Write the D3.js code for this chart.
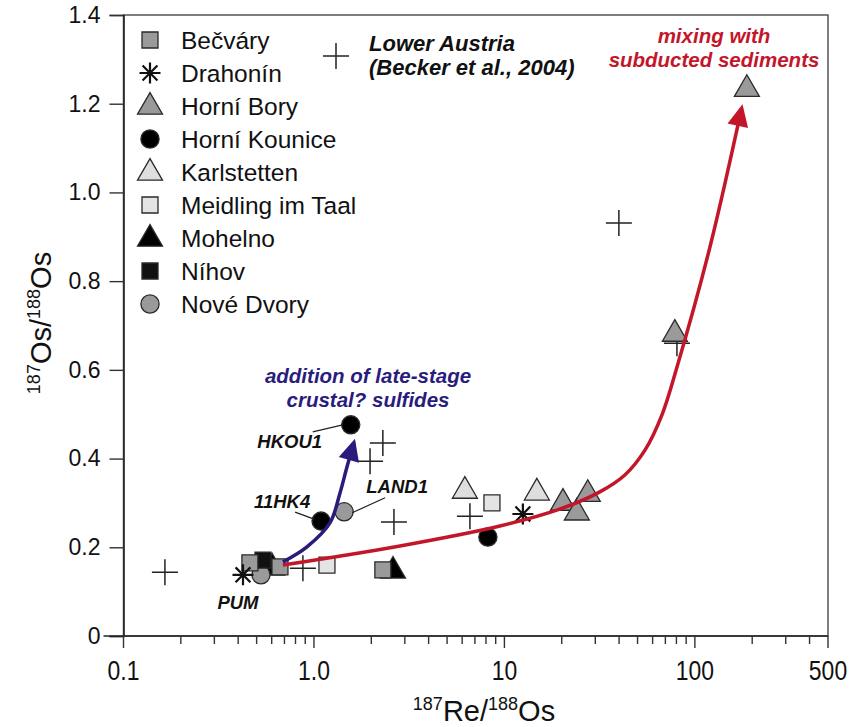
<!DOCTYPE html>
<html>
<head>
<meta charset="utf-8">
<script src="https://cdn.jsdelivr.net/npm/d3@7"></script>
<style>
body { margin: 0; background: #fff; }
svg { display: block; font-family: "Liberation Sans", Arial, Helvetica, sans-serif; }
</style>
</head>
<body>
<div id="chart"></div>
<script>
// [187Re/188Os, 187Os/188Os]
var becvary      = [[0.461, 0.165], [0.663, 0.156], [2.30, 0.149]];
var drahonin     = [[0.424, 0.138], [12.5, 0.275]];
var horniBory    = [[20.3, 0.302], [24.0, 0.280], [27.4, 0.322], [78.5, 0.683], [187.5, 1.235]];
var horniKounice = [[1.56, 0.476], [1.09, 0.259], [8.19, 0.223]];
var karlstetten  = [[6.2, 0.329], [14.8, 0.325]];
var meidling     = [[8.6, 0.300], [1.17, 0.160]];
var mohelno      = [[0.603, 0.156], [2.60, 0.149]];
var nihov        = [[0.54, 0.171]];
var noveDvory    = [[0.527, 0.138], [1.44, 0.280]];
var lowerAustria = [[0.165, 0.144], [0.875, 0.153], [2.30, 0.435], [1.97, 0.394],
                    [2.63, 0.257], [6.59, 0.270], [39.9, 0.931], [80.5, 0.660]];

// trend arrows (drawn by hand in the original)
var sedimentTrend = [[0.687, 0.160], [2.83, 0.203], [9.47, 0.248], [19.5, 0.286], [31.7, 0.325],
                     [42.9, 0.363], [54.7, 0.419], [67.1, 0.498], [80.5, 0.606], [120, 0.877], [176, 1.19]];
var sulfideTrend  = [[0.687, 0.167], [0.919, 0.201], [1.213, 0.255], [1.369, 0.322], [1.49, 0.381], [1.62, 0.436]];

// labelled samples: text offset (tx,ty) and leader line offsets from the point
var sampleLabels = [
    {name: "HKOU1", at: [1.56, 0.476], tx: -61, ty: 23, lx: -8, ly: 0, x2: -38, y2: 7},
    {name: "11HK4", at: [1.09, 0.259], tx: -39, ty: -13, lx: -7, ly: -2, x2: -26, y2: -9},
    {name: "LAND1", at: [1.44, 0.280], tx: 53, ty: -19, lx: 8, ly: 1, x2: 41, y2: -14},
    {name: "PUM",   at: [0.424, 0.138], tx: -5, ty: 34, lx: 0, ly: 0, x2: 0, y2: 0}
];

var yTicks = [0, 0.2, 0.4, 0.6, 0.8, 1.0, 1.2, 1.4];
var xMajor = [0.1, 1, 10, 100, 500];
var xMajorLabels = ["0.1", "1.0", "10", "100", "500"];
var xMinor = [0.2, 0.3, 0.4, 0.5, 0.6, 0.7, 0.8, 0.9, 2, 3, 4, 5, 6, 7, 8, 9,
              20, 30, 40, 50, 60, 70, 80, 90, 200, 300, 400];

var groups = [
    {name: "Bečváry", shape: "square", fill: "#9a9a9a", data: becvary},
    {name: "Drahonín", shape: "star", fill: "#111", data: drahonin},
    {name: "Horní Bory", shape: "triangle", fill: "#9a9a9a", data: horniBory},
    {name: "Horní Kounice", shape: "circle", fill: "#000", data: horniKounice},
    {name: "Karlstetten", shape: "triangle", fill: "#dedede", data: karlstetten},
    {name: "Meidling im Taal", shape: "square", fill: "#e4e4e4", data: meidling},
    {name: "Mohelno", shape: "triangle", fill: "#000", data: mohelno},
    {name: "Níhov", shape: "square", fill: "#111", data: nihov},
    {name: "Nové Dvory", shape: "circle", fill: "#9a9a9a", data: noveDvory}
];

var W = 858, H = 727;
var svg = d3.select("#chart").append("svg").attr("width", W).attr("height", H);

var x = d3.scaleLog().domain([0.1, 500]).range([123.5, 828]);
var y = d3.scaleLinear().domain([0, 1.4]).range([636, 15]);

var red = "#c3162b", navy = "#2a1c7c";

var defs = svg.append("defs");
function arrowHead(id, color){
    defs.append("marker")
        .attr("id", id)
        .attr("markerUnits", "userSpaceOnUse")
        .attr("viewBox", "-24 -12 28 24")
        .attr("markerWidth", 28).attr("markerHeight", 24)
        .attr("refX", -4).attr("refY", 0)
        .attr("orient", "auto")
        .append("path")
        .attr("d", "M0,0 L-22,-10.5 L-22,10.5 Z")
        .attr("fill", color);
}
arrowHead("arrRed", red);
arrowHead("arrNavy", navy);

// frame
svg.append("rect")
    .attr("x", x.range()[0]).attr("y", y.range()[1])
    .attr("width", x.range()[1] - x.range()[0])
    .attr("height", y.range()[0] - y.range()[1])
    .attr("fill", "none").attr("stroke", "#555").attr("stroke-width", 1.5);

// y axis
var yAxis = svg.append("g")
    .attr("transform", "translate(" + x.range()[0] + ",0)")
    .call(d3.axisLeft(y).tickValues(yTicks).tickSize(14).tickPadding(9)
          .tickFormat(function(d){ return d === 0 ? "0" : d.toFixed(1); }));
yAxis.select(".domain").attr("stroke", "#222").attr("stroke-width", 1.6);
yAxis.selectAll(".tick line").attr("stroke", "#333").attr("stroke-width", 1.4);
yAxis.selectAll(".tick text").attr("font-size", 23).attr("fill", "#111")
    .attr("font-family", "\"Liberation Sans\", Arial, sans-serif");

// x axis
var xAxis = svg.append("g")
    .attr("transform", "translate(0," + y.range()[0] + ")");
xAxis.append("line")
    .attr("x1", x.range()[0] - 20).attr("x2", x.range()[1])
    .attr("stroke", "#222").attr("stroke-width", 1.6);
xAxis.selectAll(".minor").data(xMinor).enter().append("line")
    .attr("x1", function(d){ return x(d); }).attr("x2", function(d){ return x(d); })
    .attr("y1", 0).attr("y2", 8)
    .attr("stroke", "#333").attr("stroke-width", 1.4);
xAxis.selectAll(".major").data(xMajor).enter().append("line")
    .attr("x1", function(d){ return x(d); }).attr("x2", function(d){ return x(d); })
    .attr("y1", 0).attr("y2", 12)
    .attr("stroke", "#333").attr("stroke-width", 1.4);
xAxis.selectAll(".lab").data(xMajor).enter().append("text")
    .attr("transform", function(d){ return "translate(" + x(d) + ",44) scale(0.85,1)"; })
    .attr("text-anchor", "middle")
    .attr("font-size", 27).attr("fill", "#111")
    .text(function(d, i){ return xMajorLabels[i]; });

// axis titles
var xt = svg.append("text").attr("x", 484).attr("y", 721)
    .attr("text-anchor", "middle").attr("font-size", 29).attr("fill", "#111");
xt.append("tspan").attr("font-size", 18).attr("dy", -11).text("187");
xt.append("tspan").attr("dy", 11).text("Re/");
xt.append("tspan").attr("font-size", 18).attr("dy", -11).text("188");
xt.append("tspan").attr("dy", 11).text("Os");

var yt = svg.append("text").attr("transform", "translate(51,323) rotate(-90)")
    .attr("text-anchor", "middle").attr("font-size", 29).attr("fill", "#111");
yt.append("tspan").attr("font-size", 18).attr("dy", -11).text("187");
yt.append("tspan").attr("dy", 11).text("Os/");
yt.append("tspan").attr("font-size", 18).attr("dy", -11).text("188");
yt.append("tspan").attr("dy", 11).text("Os");

// symbol drawing
var symSize = {square: 256, triangle: 270, circle: 260};
function drawSymbol(g, shape, fill){
    if (shape === "star") {
        var r = 10.5;
        var p = "";
        for (var k = 0; k < 4; k++) {
            var a = k * Math.PI / 4;
            p += "M" + (-r * Math.cos(a)) + "," + (-r * Math.sin(a)) +
                 "L" + (r * Math.cos(a)) + "," + (r * Math.sin(a));
        }
        g.append("path").attr("d", p).attr("stroke", fill).attr("stroke-width", 2.2);
        return;
    }
    var type = shape === "square" ? d3.symbolSquare :
               shape === "triangle" ? d3.symbolTriangle : d3.symbolCircle;
    g.append("path")
        .attr("d", d3.symbol().type(type).size(symSize[shape])())
        .attr("transform", shape === "triangle" ? "translate(0,1)" : null)
        .attr("fill", fill).attr("stroke", "#2a2a2a").attr("stroke-width", 1.3);
}
function drawCross(g){
    g.append("path").attr("d", "M-13,0H13M0,-13V13")
        .attr("stroke", "#222").attr("stroke-width", 1.5).attr("fill", "none");
}

// Lower Austria crosses
svg.append("g").selectAll("g").data(lowerAustria).enter().append("g")
    .attr("transform", function(d){ return "translate(" + x(d[0]) + "," + y(d[1]) + ")"; })
    .each(function(){ drawCross(d3.select(this)); });

// sample symbols, drawn in reverse legend order so Bečváry sits on top
var plotOrder = ["Karlstetten", "Meidling im Taal", "Horní Bory", "Mohelno", "Horní Kounice",
                 "Nové Dvory", "Níhov", "Bečváry", "Drahonín"];
plotOrder.forEach(function(nm){
    var grp = groups.filter(function(g){ return g.name === nm; })[0];
    svg.append("g").selectAll("g").data(grp.data).enter().append("g")
        .attr("transform", function(d){ return "translate(" + x(d[0]) + "," + y(d[1]) + ")"; })
        .each(function(){ drawSymbol(d3.select(this), grp.shape, grp.fill); });
});

// trend arrows
var trendLine = d3.line()
    .x(function(d){ return x(d[0]); })
    .y(function(d){ return y(d[1]); })
    .curve(d3.curveCatmullRom.alpha(0.5));
svg.append("path").attr("d", trendLine(sedimentTrend))
    .attr("fill", "none").attr("stroke", red).attr("stroke-width", 3.5)
    .attr("marker-end", "url(#arrRed)");
svg.append("path").attr("d", trendLine(sulfideTrend))
    .attr("fill", "none").attr("stroke", navy).attr("stroke-width", 3.5)
    .attr("marker-end", "url(#arrNavy)");

// sample labels and leader lines
sampleLabels.forEach(function(s){
    var px = x(s.at[0]), py = y(s.at[1]);
    if (s.x2 !== 0 || s.y2 !== 0) {
        svg.append("line")
            .attr("x1", px + s.lx).attr("y1", py + s.ly)
            .attr("x2", px + s.x2).attr("y2", py + s.y2)
            .attr("stroke", "#222").attr("stroke-width", 1.2);
    }
    svg.append("text")
        .attr("x", px + s.tx).attr("y", py + s.ty)
        .attr("text-anchor", "middle")
        .attr("font-size", 18.5)
        .attr("font-weight", "bold").attr("font-style", "italic")
        .attr("fill", "#111").text(s.name);
});

// annotations
function twoLines(cx, y0, lines, color, size, anchor){
    var t = svg.append("text").attr("font-weight", "bold").attr("font-style", "italic")
        .attr("font-size", size).attr("fill", color).attr("text-anchor", anchor || "middle");
    lines.forEach(function(l, i){
        t.append("tspan").attr("x", cx).attr("y", y0 + i * 24).text(l);
    });
}
twoLines(714, 43, ["mixing with", "subducted sediments"], red, 20.5);
twoLines(368, 383, ["addition of late-stage", "crustal? sulfides"], navy, 20.5);
twoLines(369, 51, ["Lower Austria", "(Becker et al., 2004)"], "#111", 22, "start");

// legend
var legend = svg.append("g");
var rows = legend.selectAll("g").data(groups).enter().append("g")
    .attr("transform", function(d, i){ return "translate(150," + (40 + i * 33) + ")"; });
rows.each(function(d){ drawSymbol(d3.select(this), d.shape, d.fill); });
rows.append("text").attr("x", 31).attr("y", 8.5)
    .attr("font-size", 24.5).attr("fill", "#111")
    .text(function(d){ return d.name; });
var crossKey = legend.append("g").attr("transform", "translate(336,56)");
drawCross(crossKey);
</script>
</body>
</html>
